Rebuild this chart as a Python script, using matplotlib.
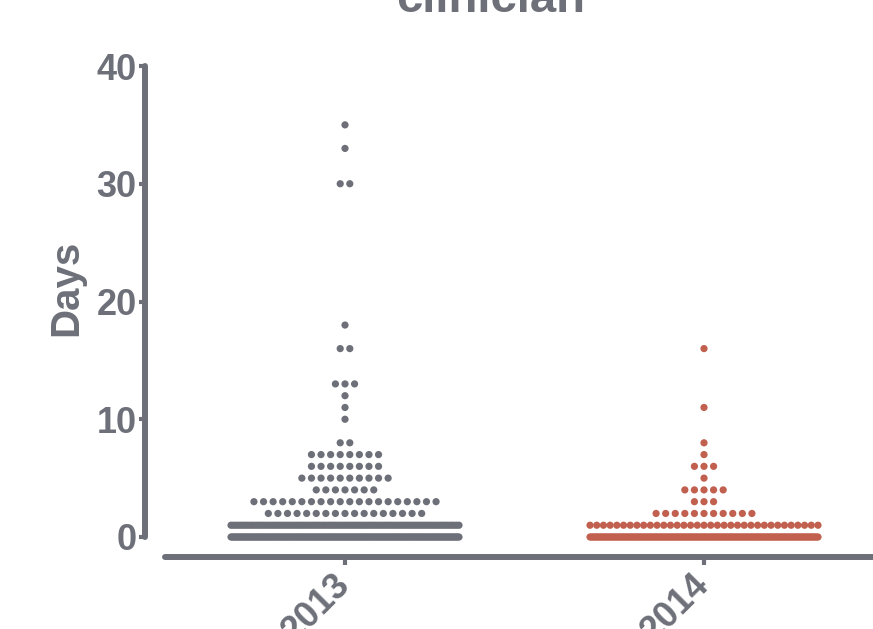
import numpy as np
import matplotlib
matplotlib.use("Agg")
import matplotlib.pyplot as plt

# days per clinician visit, counted per row of dots
groups = ["2013", "2014"]
days_2013 = [0, 1, 2, 3, 4, 5, 6, 7, 8, 10, 11, 12, 13, 16, 18, 30, 33, 35]
n_2013 = [180, 99, 17, 20, 7, 10, 8, 8, 2, 1, 1, 1, 3, 2, 1, 2, 1, 1]
days_2014 = [0, 1, 2, 3, 4, 5, 6, 7, 8, 11, 16]
n_2014 = [160, 35, 11, 3, 5, 1, 3, 1, 1, 1, 1]
y_ticks = [0, 10, 20, 30, 40]

grey = "#6e7079"
red = "#c1604f"
plt.rcParams["font.family"] = ["Liberation Sans", "DejaVu Sans"]
plt.rcParams["font.weight"] = "bold"


def row_offsets(n, step=0.0267, half_max=0.3175):
    # centred row of dots, squeezed when the row gets too wide
    half = min((n - 1) * step / 2, half_max)
    return np.linspace(-half, half, n)


fig = plt.figure(figsize=(8.73, 6.29), dpi=100)
ax = fig.add_axes([165 / 873, 92 / 629, 835 / 873, 471 / 629])

for i, (days, counts, col) in enumerate([(days_2013, n_2013, grey),
                                         (days_2014, n_2014, red)]):
    for d, n in zip(days, counts):
        xs = i + row_offsets(n)
        ax.scatter(xs, np.full(n, d), s=27, color=col, edgecolors="none",
                   clip_on=False, zorder=3)

ax.set_xlim(-0.5014, 1.8245)
ax.set_ylim(0, 40)
ax.set_yticks(y_ticks)
ax.set_xticks(range(len(groups)))
ax.set_xticklabels(groups)

for side in ["top", "right"]:
    ax.spines[side].set_visible(False)
for side in ["left", "bottom"]:
    sp = ax.spines[side]
    sp.set_position(("outward", 14.4))
    sp.set_linewidth(4.3)
    sp.set_color(grey)
    sp.set_capstyle("round")

ax.tick_params(axis="y", length=4, width=3, color=grey, labelcolor=grey,
               labelsize=26, pad=2)
ax.tick_params(axis="x", length=6, width=3, color=grey, labelcolor=grey,
               labelsize=26, pad=10)
for lab in ax.get_xticklabels() + ax.get_yticklabels():
    lab.set_fontweight("bold")
for lab in ax.get_xticklabels():
    lab.set_rotation(45)
    lab.set_ha("right")
    lab.set_va("center")
    lab.set_rotation_mode("anchor")

fig.text(66 / 873, 1 - 288 / 629, "Days", rotation=90, ha="center",
         va="center", fontsize=29, fontweight="bold", color=grey)
fig.text(491 / 873, 1 - 12 / 629, "clinician", ha="center", va="baseline",
         fontsize=34, fontweight="bold", color=grey)

fig.savefig("out.png", dpi=100)
